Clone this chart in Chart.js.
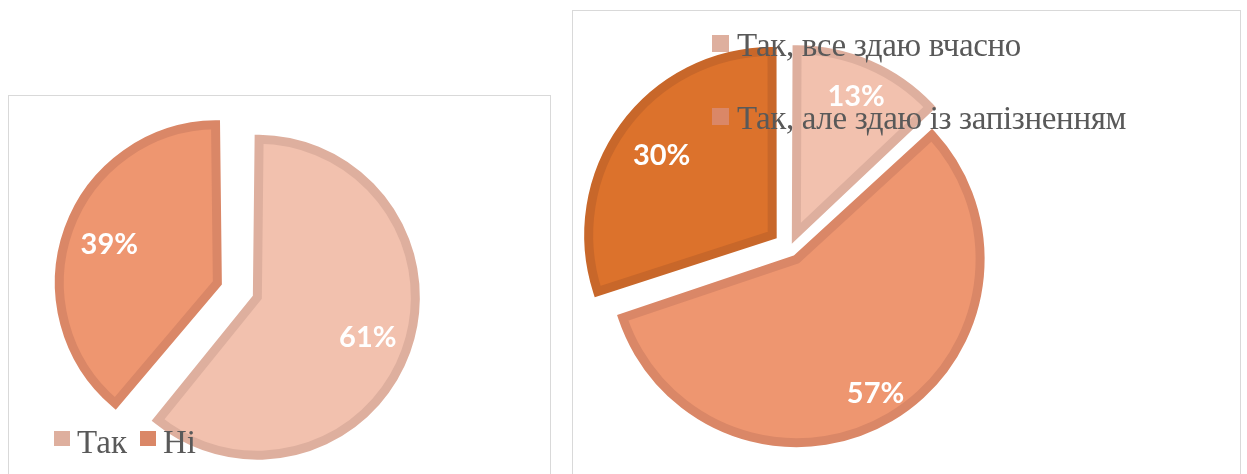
<!DOCTYPE html>
<html lang="uk">
<head>
<meta charset="utf-8">
<script src="https://cdn.jsdelivr.net/npm/chart.js@4"></script>
<style>
  html, body { margin: 0; padding: 0; background: #fff; }
  body { width: 1247px; height: 474px; overflow: hidden; position: relative; }
  .frame { position: absolute; border: 1px solid #d9d9d9; box-sizing: border-box; }
  canvas { position: absolute; }
  .legend {
    position: absolute; margin: 0; padding: 0; list-style: none;
    font-family: 'Liberation Serif', 'DejaVu Serif', serif;
    font-size: 33px; line-height: 33px; color: #595959;
    display: flex; white-space: nowrap;
  }
  .legend li { display: flex; align-items: flex-start; }
  .legend .mark { display: inline-block; flex: none; }
  #leftLegend { left: 54px; top: 426px; flex-direction: row; gap: 13px; }
  #leftLegend .mark { width: 16px; height: 15px; margin-top: 5px; margin-right: 7px; }
  #rightLegend { left: 712px; top: 29px; flex-direction: column; letter-spacing: -0.35px; }
  #rightLegend li { margin-bottom: 40px; }
  #rightLegend .mark { width: 17px; height: 17px; margin-top: 6px; margin-right: 8px; }
</style>
</head>
<body>
<div class="frame" style="left:8px; top:95px; width:543px; height:400px;"></div>
<div class="frame" style="left:572px; top:10px; width:669px; height:480px;"></div>
<canvas id="leftChart" width="540" height="378" style="left:9px; top:96px;"></canvas>
<canvas id="rightChart" width="666" height="463" style="left:573px; top:11px;"></canvas>
<ul class="legend" id="leftLegend"></ul>
<ul class="legend" id="rightLegend"></ul>

<script>
// Діаграма 1
const leftLabels = ['Так', 'Ні'];
const leftValues = [61, 39];

// Діаграма 2 (третя категорія в легенді не видна)
const rightLabels = ['Так, все здаю вчасно', 'Так, але здаю із запізненням', 'Ні'];
const rightValues = [13, 57, 30];
const rightLegendCount = 2;

// кольори
const leftFill = ['#F2C1AE', '#EE9670'];
const leftBorder = ['#DEAF9E', '#DA8767'];
const rightFill = ['#F2C1AE', '#EE9670', '#DC722C'];
const rightBorder = ['#DEAF9E', '#DA8767', '#C8672A'];

// легенда у HTML (як у прикладі htmlLegend з документації Chart.js)
const htmlLegend = {
    id: 'htmlLegend',
    afterUpdate(chart, args, opts) {
        const list = document.getElementById(opts.containerID);
        list.innerHTML = '';
        const items = chart.options.plugins.legend.labels.generateLabels(chart).slice(0, opts.count);
        items.forEach(item => {
            const li = document.createElement('li');
            const mark = document.createElement('span');
            mark.className = 'mark';
            mark.style.background = item.strokeStyle;
            const text = document.createElement('span');
            text.textContent = item.text;
            li.append(mark, text);
            list.appendChild(li);
        });
    }
};

// висунуті сектори: Chart.js збільшує радіус великих секторів, тут вирівнюємо
const sameRadius = {
    id: 'sameRadius',
    beforeDatasetsDraw(chart) {
        const meta = chart.getDatasetMeta(0);
        const base = meta.controller.outerRadius;
        meta.data.forEach(arc => {
            const shift = (arc.options.offset || 0) / 4;
            const fix = 1 - Math.sin(Math.min(Math.PI, arc.circumference));
            arc.outerRadius = base - shift * fix;
        });
    }
};

// підписи з відсотками всередині секторів
const pctLabels = {
    id: 'pctLabels',
    afterDatasetsDraw(chart, args, opts) {
        const ctx = chart.ctx;
        const meta = chart.getDatasetMeta(0);
        const values = chart.data.datasets[0].data;
        const base = meta.controller.outerRadius;
        ctx.save();
        ctx.fillStyle = '#ffffff';
        ctx.font = 'bold ' + opts.size + 'px Lato, "Open Sans", sans-serif';
        ctx.textAlign = 'center';
        ctx.textBaseline = 'middle';
        meta.data.forEach((arc, i) => {
            const mid = (arc.startAngle + arc.endAngle) / 2;
            const shift = (arc.options.offset || 0) / 4;
            const d = shift + opts.k[i] * base;
            ctx.fillText(values[i] + '%', arc.x + Math.cos(mid) * d, arc.y + Math.sin(mid) * d + 1);
        });
        ctx.restore();
    }
};

function makePie(id, labels, values, fill, border, offsets, radius, padding, legendId, legendCount, labelSize, labelK) {
    return new Chart(document.getElementById(id), {
        type: 'pie',
        data: {
            labels: labels,
            datasets: [{
                data: values,
                backgroundColor: fill,
                borderColor: border,
                borderWidth: 9,
                borderAlign: 'center',
                borderJoinStyle: 'miter',
                offset: offsets,
                clip: false
            }]
        },
        options: {
            responsive: false,
            animation: false,
            events: [],
            radius: radius,
            layout: { padding: padding },
            plugins: {
                legend: { display: false },
                tooltip: { enabled: false },
                htmlLegend: { containerID: legendId, count: legendCount },
                pctLabels: { size: labelSize, k: labelK }
            }
        },
        plugins: [htmlLegend, sameRadius, pctLabels]
    });
}

makePie('leftChart', leftLabels, leftValues, leftFill, leftBorder,
    [44, 126], 158, { left: 0, right: 64, top: 17, bottom: 0 },
    'leftLegend', leftLabels.length, 29, [0.743, 0.727]);

makePie('rightChart', rightLabels, rightValues, rightFill, rightBorder,
    [64, 52, 88], 183.5, { left: 0, right: 232, top: 11, bottom: 0 },
    'rightLegend', rightLegendCount, 29, [0.82, 0.845, 0.745]);
</script>
</body>
</html>
